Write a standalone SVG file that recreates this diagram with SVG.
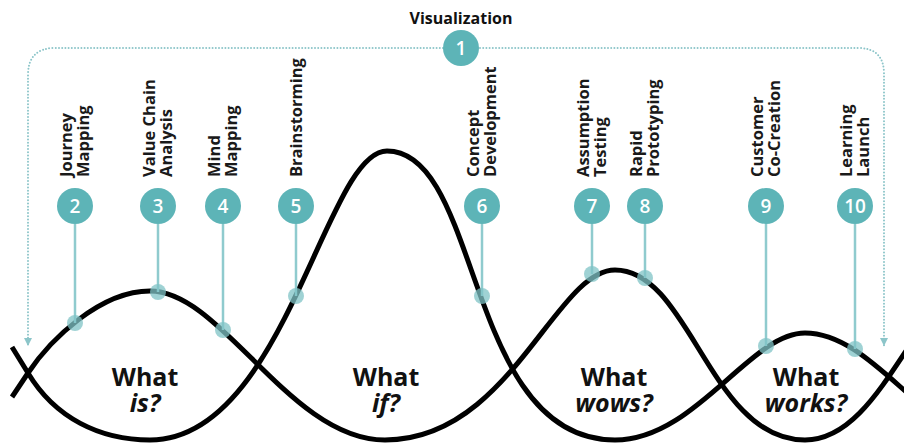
<svg xmlns="http://www.w3.org/2000/svg" width="904" height="445" viewBox="0 0 904 445">
<style>
.lbl{font-family:"Open Sans","Liberation Sans",sans-serif;font-weight:700;font-size:16.5px;fill:#1a1a1a}
.num{font-family:"Open Sans","Liberation Sans",sans-serif;font-weight:600;font-size:19px;fill:#ffffff;text-anchor:middle}
.big{font-family:"Open Sans","Liberation Sans",sans-serif;font-weight:700;font-size:25px;fill:#111;text-anchor:middle}
.it{font-style:italic}
.node{fill:#5db4b7}
.stem{stroke:#8fcbce;stroke-width:2.5;fill:none}
.dot{fill:#7fc3c6;fill-opacity:0.75}
.curve{fill:none;stroke:#000;stroke-width:5}
.dotted{fill:none;stroke:#8cc5c9;stroke-width:2;stroke-dasharray:0 3.2;stroke-linecap:round}
</style>
<defs>
<marker id="arr" viewBox="0 -4 8 8" refX="8" refY="0" markerWidth="8" markerHeight="8" markerUnits="userSpaceOnUse" orient="auto">
<path d="M0,-4 L8,0 L0,4 z" fill="#8cc5c9"/>
</marker>
</defs>
<g id="connectors">
<path class="dotted" d="M443 48 H55 Q28 48 28 75 V346" marker-end="url(#arr)"/>
<path class="dotted" d="M480 48 H858 Q884 48 884 74 V346" marker-end="url(#arr)"/>
<path class="curve" d="M12 397 L28 373 C50 340 100 291 150 291 C222 291 290 440 385 440 C510 440 555 270 615 270 C690 270 710 440 805 440 C850 440 880 390 910 345"/>
<path class="curve" d="M12 347 L28 373 C55 418 100 440 150 440 C285 440 325 151 387 151 C482 151 465 440 615 440 C695 440 750 333 805 333 C874 333 926 440 995 440"/>
</g>
<g id="n1">
<text x="461" y="24" class="big" style="font-size:16px">Visualization</text>
<circle class="node" cx="461" cy="48" r="18"/>
<text x="461" y="55" class="num">1</text>
</g>
<g id="n2">
<text class="lbl" transform="translate(72,177) rotate(-90)">Journey<tspan x="0" dy="17">Mapping</tspan></text>
<line class="stem" x1="75" y1="224" x2="75" y2="323"/>
<circle class="dot" cx="75" cy="323" r="8"/>
<circle class="node" cx="75" cy="206" r="18"/>
<text x="75" y="213" class="num">2</text>
</g>
<g id="n3">
<text class="lbl" transform="translate(155,177) rotate(-90)">Value Chain<tspan x="0" dy="17">Analysis</tspan></text>
<line class="stem" x1="158" y1="224" x2="158" y2="292"/>
<circle class="dot" cx="158" cy="292" r="8"/>
<circle class="node" cx="158" cy="206" r="18"/>
<text x="158" y="213" class="num">3</text>
</g>
<g id="n4">
<text class="lbl" transform="translate(220,177) rotate(-90)">Mind<tspan x="0" dy="17">Mapping</tspan></text>
<line class="stem" x1="223" y1="224" x2="223" y2="330"/>
<circle class="dot" cx="223" cy="330" r="8"/>
<circle class="node" cx="223" cy="206" r="18"/>
<text x="223" y="213" class="num">4</text>
</g>
<g id="n5">
<text class="lbl" transform="translate(302,177) rotate(-90)">Brainstorming</text>
<line class="stem" x1="296" y1="224" x2="296" y2="296"/>
<circle class="dot" cx="296" cy="296" r="8"/>
<circle class="node" cx="296" cy="206" r="18"/>
<text x="296" y="213" class="num">5</text>
</g>
<g id="n6">
<text class="lbl" transform="translate(479,177) rotate(-90)">Concept<tspan x="0" dy="17">Development</tspan></text>
<line class="stem" x1="482" y1="224" x2="482" y2="296"/>
<circle class="dot" cx="482" cy="296" r="8"/>
<circle class="node" cx="482" cy="206" r="18"/>
<text x="482" y="213" class="num">6</text>
</g>
<g id="n7">
<text class="lbl" transform="translate(589,177) rotate(-90)">Assumption<tspan x="0" dy="17">Testing</tspan></text>
<line class="stem" x1="592" y1="224" x2="592" y2="274"/>
<circle class="dot" cx="592" cy="274" r="8"/>
<circle class="node" cx="592" cy="206" r="18"/>
<text x="592" y="213" class="num">7</text>
</g>
<g id="n8">
<text class="lbl" transform="translate(642,177) rotate(-90)">Rapid<tspan x="0" dy="17">Prototyping</tspan></text>
<line class="stem" x1="645" y1="224" x2="645" y2="278"/>
<circle class="dot" cx="645" cy="278" r="8"/>
<circle class="node" cx="645" cy="206" r="18"/>
<text x="645" y="213" class="num">8</text>
</g>
<g id="n9">
<text class="lbl" transform="translate(763,177) rotate(-90)">Customer<tspan x="0" dy="17">Co-Creation</tspan></text>
<line class="stem" x1="766" y1="224" x2="766" y2="346"/>
<circle class="dot" cx="766" cy="346" r="8"/>
<circle class="node" cx="766" cy="206" r="18"/>
<text x="766" y="213" class="num">9</text>
</g>
<g id="n10">
<text class="lbl" transform="translate(852,177) rotate(-90)">Learning<tspan x="0" dy="17">Launch</tspan></text>
<line class="stem" x1="855" y1="224" x2="855" y2="349"/>
<circle class="dot" cx="855" cy="349" r="8"/>
<circle class="node" cx="855" cy="206" r="18"/>
<text x="855" y="213" class="num">10</text>
</g>
<g id="what-is"><text class="big" x="145" y="386">What</text><text class="big it" x="145" y="412">is?</text></g>
<g id="what-if"><text class="big" x="386" y="386">What</text><text class="big it" x="386" y="412">if?</text></g>
<g id="what-wows"><text class="big" x="614" y="386">What</text><text class="big it" x="614" y="412">wows?</text></g>
<g id="what-works"><text class="big" x="806" y="386">What</text><text class="big it" x="806" y="412">works?</text></g>
</svg>
